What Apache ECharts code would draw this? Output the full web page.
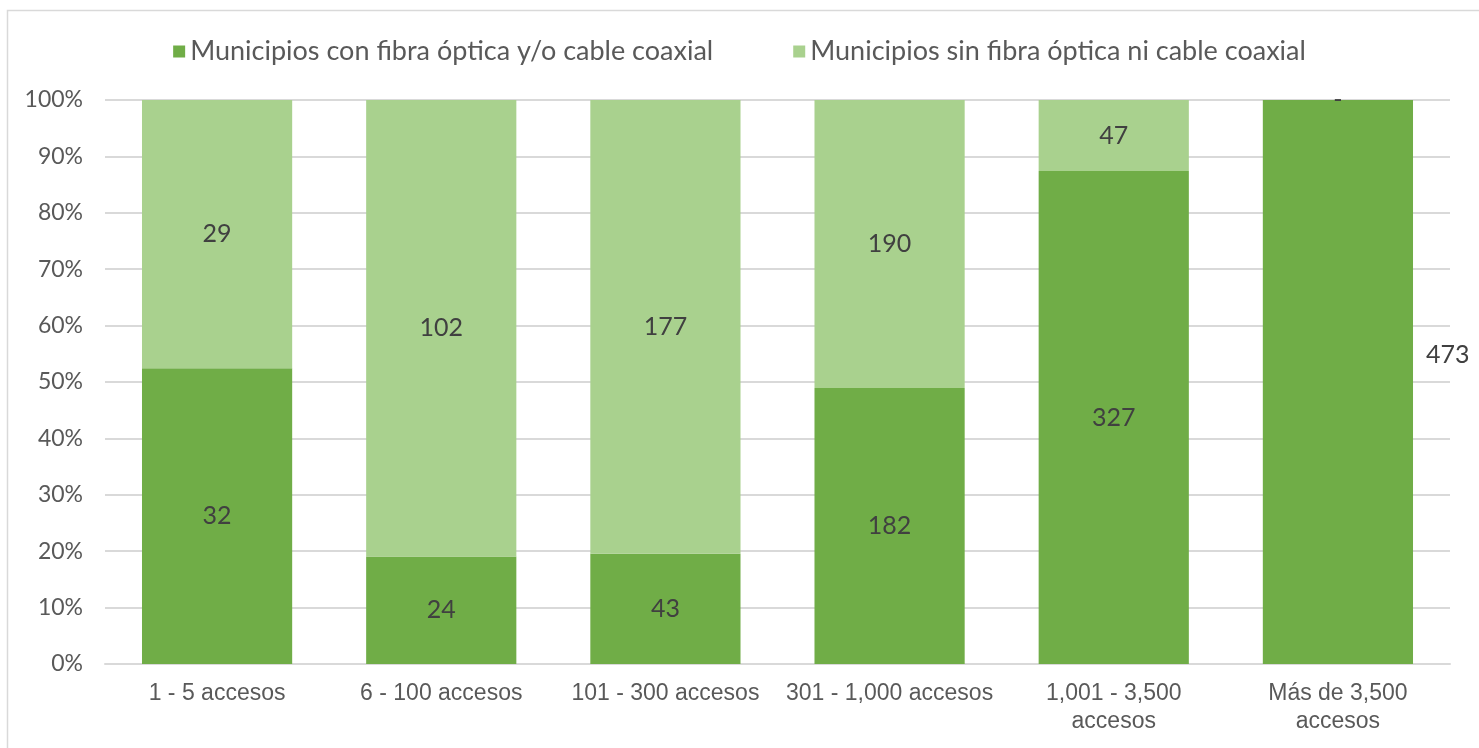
<!DOCTYPE html>
<html>
<head>
<meta charset="utf-8">
<title>Municipios por rango de accesos</title>
<script src="https://cdn.jsdelivr.net/npm/echarts@6.0.0/dist/echarts.min.js"></script>
<style>
  html, body { margin: 0; padding: 0; background: #fff; }
  #chart { width: 1479px; height: 748px; }
</style>
</head>
<body>
<div id="chart"></div>
<script>
const categories = ['1 - 5 accesos', '6 - 100 accesos', '101 - 300 accesos', '301 - 1,000 accesos', '1,001 - 3,500\naccesos', 'Más de 3,500\naccesos'];
const conFibra = [32, 24, 43, 182, 327, 473];
const sinFibra = [29, 102, 177, 190, 47, 0];
const seriesNames = ['Municipios con fibra óptica y/o cable coaxial', 'Municipios sin fibra óptica ni cable coaxial'];

const totals = conFibra.map((v, i) => v + sinFibra[i]);
const pct = arr => arr.map((v, i) => ({ value: v / totals[i] * 100, raw: v }));

const labelFont = 'Lato, "Open Sans", sans-serif';

const conData = pct(conFibra);
// last bar: label sits outside, to the right
conData[5].label = { position: 'right', offset: [8, -27] };

const barLabel = {
  show: true,
  position: 'inside',
  formatter: p => p.data.raw === 0 ? '-' : p.data.raw,
  fontFamily: labelFont,
  fontSize: 25,
  color: '#404040'
};

const chart = echarts.init(document.getElementById('chart'));
chart.setOption({
  animation: false,
  graphic: [{
    type: 'rect',
    shape: { x: 7.5, y: 10.5, width: 1490, height: 760 },
    style: { fill: 'none', stroke: '#d9d9d9', lineWidth: 1.5 },
    silent: true
  }],
  legend: {
    top: 33,
    left: 'center',
    itemWidth: 12,
    itemHeight: 12,
    itemGap: 80,
    icon: 'rect',
    textStyle: { fontFamily: labelFont, fontSize: 27, color: '#595959' },
    data: seriesNames
  },
  grid: { left: 105, right: 29, top: 100, bottom: 84 },
  xAxis: {
    type: 'category',
    data: categories,
    axisLine: { lineStyle: { color: '#d9d9d9', width: 2 } },
    axisTick: { show: false },
    axisLabel: { interval: 0, fontFamily: '"Liberation Sans", Arial, sans-serif', fontSize: 23, color: '#595959', margin: 16, lineHeight: 28 }
  },
  yAxis: {
    type: 'value',
    min: 0,
    max: 100,
    interval: 10,
    axisLine: { show: false },
    axisTick: { show: false },
    splitLine: { lineStyle: { color: '#d9d9d9', width: 2 } },
    axisLabel: { formatter: '{value}%', fontFamily: labelFont, fontSize: 23, color: '#595959', margin: 22 }
  },
  series: [
    {
      name: seriesNames[0],
      type: 'bar',
      stack: 'total',
      barWidth: '67%',
      itemStyle: { color: '#70ad47' },
      label: barLabel,
      data: conData
    },
    {
      name: seriesNames[1],
      type: 'bar',
      stack: 'total',
      barWidth: '67%',
      itemStyle: { color: '#a9d18e' },
      label: barLabel,
      data: pct(sinFibra)
    }
  ]
});
</script>
</body>
</html>
